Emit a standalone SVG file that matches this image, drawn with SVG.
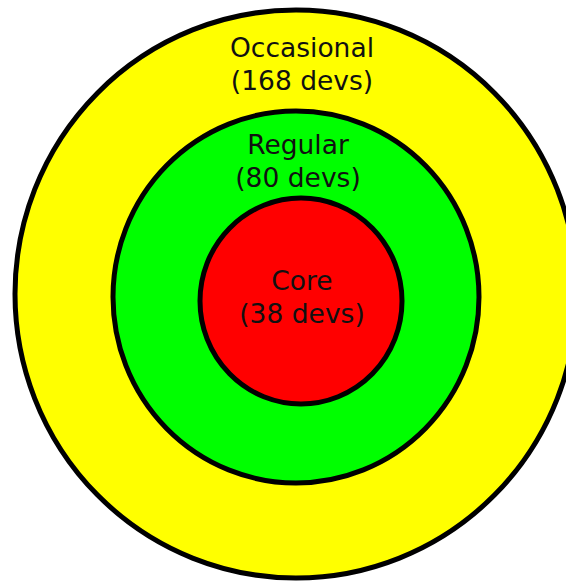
<svg xmlns="http://www.w3.org/2000/svg" width="566" height="581" viewBox="0 0 566 581">
<style>
.ring{stroke:#000;stroke-width:5}
text{font-family:"DejaVu Sans",sans-serif;font-size:26.5px;fill:#111;text-anchor:middle}
</style>
<rect width="566" height="581" fill="#fff"/>
<g id="occasional">
<ellipse class="ring" cx="296" cy="294" rx="281" ry="284" fill="#ffff00"/>
<text x="302" y="57">Occasional</text>
<text x="302" y="90">(168 devs)</text>
</g>
<g id="regular">
<ellipse class="ring" cx="296" cy="297" rx="183" ry="186" fill="#00ff00"/>
<text x="298" y="154">Regular</text>
<text x="298" y="187">(80 devs)</text>
</g>
<g id="core">
<ellipse class="ring" cx="301" cy="301" rx="101" ry="103" fill="#ff0000"/>
<text x="302" y="290">Core</text>
<text x="302" y="323">(38 devs)</text>
</g>
<g id="connectors"/>
</svg>
